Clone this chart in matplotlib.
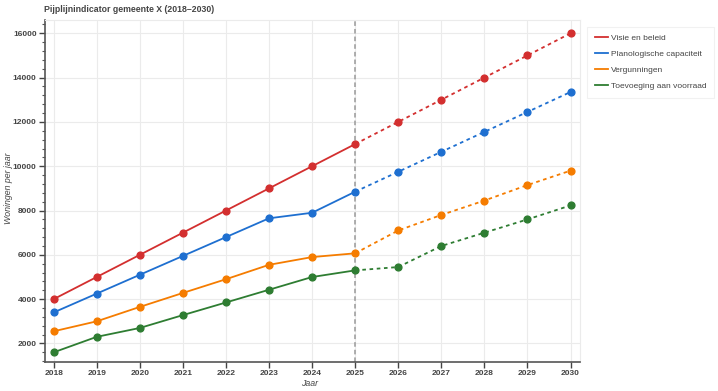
import matplotlib.pyplot as plt
from matplotlib.ticker import MultipleLocator

plt.rcParams['font.family'] = ['Liberation Sans', 'DejaVu Sans']

jaren = [2018, 2019, 2020, 2021, 2022, 2023, 2024, 2025, 2026, 2027, 2028, 2029, 2030]
visie = [4000, 5000, 6000, 7000, 8000, 9000, 10000, 11000, 12000, 13000, 14000, 15000, 16000]
planologisch = [3400, 4250, 5100, 5950, 6800, 7650, 7900, 8850, 9750, 10650, 11550, 12450, 13350]
vergunningen = [2550, 3000, 3650, 4280, 4900, 5550, 5900, 6070, 7100, 7800, 8450, 9150, 9800]
toevoeging = [1600, 2300, 2700, 3280, 3850, 4425, 5000, 5300, 5450, 6400, 7000, 7600, 8230]

series = [
    ("Visie en beleid", visie, "#d32f2f"),
    ("Planologische capaciteit", planologisch, "#1e6fd0"),
    ("Vergunningen", vergunningen, "#f57c00"),
    ("Toevoeging aan voorraad", toevoeging, "#2e7d32"),
]
grens = 2025  # realisatie t/m 2025, daarna prognose

fig = plt.figure(figsize=(7.18, 3.91), dpi=100)
ax = fig.add_axes([45 / 718, 1 - 361.5 / 391, 535 / 718, 341.5 / 391])

k = jaren.index(grens)
for naam, waarden, kleur in series:
    ax.plot(jaren[:k + 1], waarden[:k + 1], color=kleur, lw=1.3, label=naam)
    ax.plot(jaren[k:], waarden[k:], color=kleur, lw=1.3, ls=(0, (2, 2)))
    ax.scatter(jaren, waarden, color=kleur, s=24, zorder=3)

ax.axvline(grens, color="#999999", lw=1.1, ls=(0, (3, 2)), zorder=1)

ax.set_xlim(2017.8, 2030.22)
ax.set_ylim(1187, 16600)
ax.set_xticks(jaren)
ax.yaxis.set_major_locator(MultipleLocator(2000))
ax.yaxis.set_minor_locator(MultipleLocator(400))
ax.grid(True, color="#ebebeb", lw=0.8)
ax.set_axisbelow(True)

for s in ["top", "right"]:
    ax.spines[s].set_color("#ebebeb")
    ax.spines[s].set_linewidth(0.8)
for s in ["left", "bottom"]:
    ax.spines[s].set_color("#555555")
    ax.spines[s].set_linewidth(1.2)

ax.tick_params(axis="both", which="major", labelsize=6.0, colors="#444444",
               length=4, width=1, pad=2)
ax.tick_params(axis="y", which="minor", length=2.5, width=0.8, color="#555555")
for lbl in ax.get_xticklabels() + ax.get_yticklabels():
    lbl.set_fontweight("bold")

ax.set_xlabel("Jaar", fontsize=6.3, style="italic", color="#444444")
ax.set_ylabel("Woningen per jaar", fontsize=6.3, style="italic", color="#444444")
ax.xaxis.set_label_coords((310 - 45) / 535, (361.5 - 383) / 341.5)
ax.yaxis.set_label_coords((9 - 45) / 535, (361.5 - 188) / 341.5)
ax.xaxis.label.set_va("center")
ax.yaxis.label.set_va("center")

fig.text(44 / 718, 1 - 10 / 391, "Pijplijnindicator gemeente X (2018–2030)",
         fontsize=6.3, fontweight="bold", color="#444444", va="center")

leg = fig.legend(loc="upper left", bbox_to_anchor=(587 / 718, 1 - 26.5 / 391),
                 fontsize=6.0, frameon=True, handlelength=1.6, handletextpad=0.4,
                 labelspacing=1.0, borderpad=0.9, borderaxespad=0, fancybox=False)
leg.get_frame().set_edgecolor("#eeeeee")
leg.get_frame().set_linewidth(0.8)
for t in leg.get_texts():
    t.set_color("#444444")

fig.savefig("out.png", dpi=100)
